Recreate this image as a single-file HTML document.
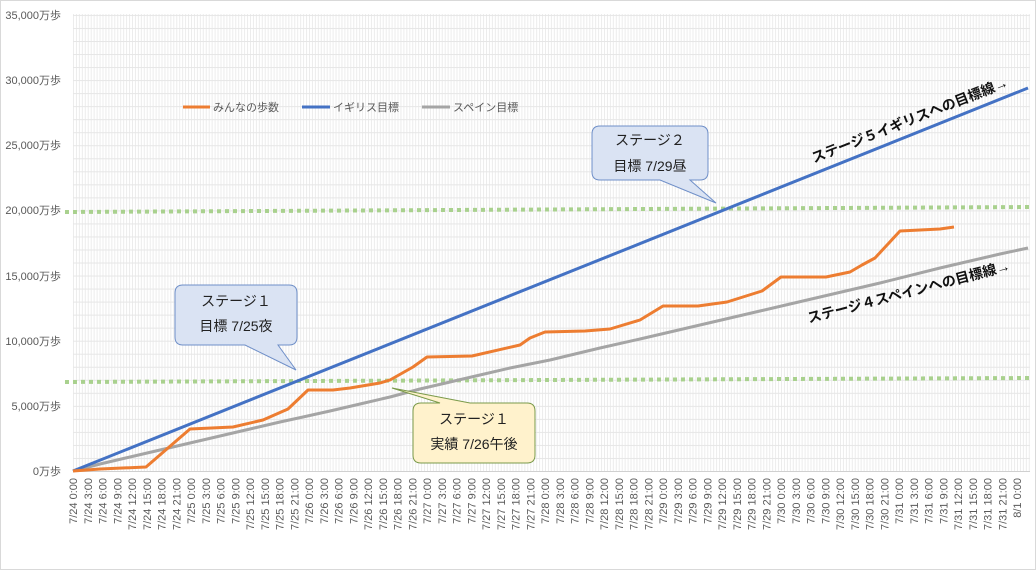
<!DOCTYPE html>
<html><head><meta charset="utf-8"><style>
body{margin:0;background:#fff}
svg{display:block;font-family:"Liberation Sans","Noto Sans CJK JP",sans-serif}
.xl{font-size:11px;fill:#595959}
.yl{font-size:11px;fill:#595959}
</style></head><body>
<svg width="1036" height="570" viewBox="0 0 1036 570" xmlns="http://www.w3.org/2000/svg">
<defs>
<pattern id="vg" x="73" y="0" width="2.95" height="10" patternUnits="userSpaceOnUse">
<line x1="0.5" y1="0" x2="0.5" y2="10" stroke="#ececec" stroke-width="1"/>
</pattern>
<pattern id="hg" x="0" y="471" width="10" height="13.03" patternUnits="userSpaceOnUse">
<line x1="0" y1="0.5" x2="10" y2="0.5" stroke="#e6e6e6" stroke-width="1"/>
</pattern>
</defs>
<rect x="0.5" y="0.5" width="1035" height="569" fill="#fff" stroke="#d9d9d9"/>
<rect x="73" y="14" width="957" height="457" fill="url(#vg)"/>
<rect x="73" y="14" width="957" height="457" fill="url(#hg)"/>
<line x1="73" y1="471.5" x2="1030" y2="471.5" stroke="#d0d0d0"/>
<g class="yl" text-anchor="end">
<text x="61" y="475">0万歩</text>
<text x="61" y="410">5,000万歩</text>
<text x="61" y="345">10,000万歩</text>
<text x="61" y="280">15,000万歩</text>
<text x="61" y="214">20,000万歩</text>
<text x="61" y="149">25,000万歩</text>
<text x="61" y="84">30,000万歩</text>
<text x="61" y="19">35,000万歩</text>
</g>
<line x1="65" y1="212" x2="1030" y2="207" stroke="#a9d18e" stroke-width="4" stroke-dasharray="4 4"/>
<line x1="65" y1="382" x2="1030" y2="378" stroke="#a9d18e" stroke-width="4" stroke-dasharray="4 4"/>
<polyline fill="none" stroke="#a5a5a5" stroke-width="3" stroke-linejoin="round" points="73,471 100,464 130,457 160,450 190,443 220,436 250,429 280,422 303,417 330,411 360,404 390,397 420,389 450,382 480,375 510,368 550,360 600,348 640,339 700,325 760,311 820,297 880,283 940,268 1000,254 1028,248"/>
<polyline fill="none" stroke="#4472c4" stroke-width="3" points="73,471 1028,88"/>
<polyline fill="none" stroke="#ed7d31" stroke-width="3" stroke-linejoin="round" points="73,471 100,469 146,467 168,448 190,429 233,427 263,420 288,409 308,390 333,390 350,388 380,383 390,380 413,367 427,357 472,356 520,345 530,338 545,332 585,331 610,329 640,320 663,306 698,306 727,302 762,291 781,277 826,277 850,272 862,265 875,258 900,231 940,229 954,227"/>
<line x1="183" y1="107" x2="210" y2="107" stroke="#ed7d31" stroke-width="3"/>
<text x="213" y="111" font-size="11" fill="#595959">みんなの歩数</text>
<line x1="302" y1="107" x2="330" y2="107" stroke="#4472c4" stroke-width="3"/>
<text x="333" y="111" font-size="11" fill="#595959">イギリス目標</text>
<line x1="422" y1="107" x2="450" y2="107" stroke="#a5a5a5" stroke-width="3"/>
<text x="453" y="111" font-size="11" fill="#595959">スペイン目標</text>
<path d="M183,285 H289 Q297,285 297,293 V337 Q297,345 289,345 H278 L296,370 L245,345 H183 Q175,345 175,337 V293 Q175,285 183,285 Z" fill="#dae3f3" stroke="#6f8fc8"/>
<text x="236" y="306" font-size="14" text-anchor="middle" fill="#222">ステージ１</text>
<text x="236" y="331" font-size="14" text-anchor="middle" fill="#222">目標 7/25夜</text>
<path d="M600,126 H700 Q708,126 708,134 V172 Q708,180 700,180 H690 L716,203 L660,180 H600 Q592,180 592,172 V134 Q592,126 600,126 Z" fill="#dae3f3" stroke="#6f8fc8"/>
<text x="650" y="145" font-size="14" text-anchor="middle" fill="#222">ステージ２</text>
<text x="650" y="171" font-size="14" text-anchor="middle" fill="#222">目標 7/29昼</text>
<path d="M421,403 H440 L392,388 L470,403 H527 Q535,403 535,411 V455 Q535,463 527,463 H421 Q413,463 413,455 V411 Q413,403 421,403 Z" fill="#fff2cc" stroke="#7a9a4a"/>
<text x="474" y="424" font-size="14" text-anchor="middle" fill="#222">ステージ１</text>
<text x="474" y="449" font-size="14" text-anchor="middle" fill="#222">実績 7/26午後</text>
<text transform="translate(814,163) rotate(-21.5)" font-size="14" font-weight="bold" fill="#111">ステージ５イギリスへの目標線→</text>
<text transform="translate(809,323) rotate(-14.7)" font-size="14" font-weight="bold" fill="#111">ステージ４スペインへの目標線→</text>
<g class="xl" text-anchor="end">
<text transform="translate(77,478) rotate(-90)">7/24 0:00</text>
<text transform="translate(91.75,478) rotate(-90)">7/24 3:00</text>
<text transform="translate(106.5,478) rotate(-90)">7/24 6:00</text>
<text transform="translate(121.25,478) rotate(-90)">7/24 9:00</text>
<text transform="translate(136,478) rotate(-90)">7/24 12:00</text>
<text transform="translate(150.75,478) rotate(-90)">7/24 15:00</text>
<text transform="translate(165.5,478) rotate(-90)">7/24 18:00</text>
<text transform="translate(180.25,478) rotate(-90)">7/24 21:00</text>
<text transform="translate(195,478) rotate(-90)">7/25 0:00</text>
<text transform="translate(209.75,478) rotate(-90)">7/25 3:00</text>
<text transform="translate(224.5,478) rotate(-90)">7/25 6:00</text>
<text transform="translate(239.25,478) rotate(-90)">7/25 9:00</text>
<text transform="translate(254,478) rotate(-90)">7/25 12:00</text>
<text transform="translate(268.75,478) rotate(-90)">7/25 15:00</text>
<text transform="translate(283.5,478) rotate(-90)">7/25 18:00</text>
<text transform="translate(298.25,478) rotate(-90)">7/25 21:00</text>
<text transform="translate(313,478) rotate(-90)">7/26 0:00</text>
<text transform="translate(327.75,478) rotate(-90)">7/26 3:00</text>
<text transform="translate(342.5,478) rotate(-90)">7/26 6:00</text>
<text transform="translate(357.25,478) rotate(-90)">7/26 9:00</text>
<text transform="translate(372,478) rotate(-90)">7/26 12:00</text>
<text transform="translate(386.75,478) rotate(-90)">7/26 15:00</text>
<text transform="translate(401.5,478) rotate(-90)">7/26 18:00</text>
<text transform="translate(416.25,478) rotate(-90)">7/26 21:00</text>
<text transform="translate(431,478) rotate(-90)">7/27 0:00</text>
<text transform="translate(445.75,478) rotate(-90)">7/27 3:00</text>
<text transform="translate(460.5,478) rotate(-90)">7/27 6:00</text>
<text transform="translate(475.25,478) rotate(-90)">7/27 9:00</text>
<text transform="translate(490,478) rotate(-90)">7/27 12:00</text>
<text transform="translate(504.75,478) rotate(-90)">7/27 15:00</text>
<text transform="translate(519.5,478) rotate(-90)">7/27 18:00</text>
<text transform="translate(534.25,478) rotate(-90)">7/27 21:00</text>
<text transform="translate(549,478) rotate(-90)">7/28 0:00</text>
<text transform="translate(563.75,478) rotate(-90)">7/28 3:00</text>
<text transform="translate(578.5,478) rotate(-90)">7/28 6:00</text>
<text transform="translate(593.25,478) rotate(-90)">7/28 9:00</text>
<text transform="translate(608,478) rotate(-90)">7/28 12:00</text>
<text transform="translate(622.75,478) rotate(-90)">7/28 15:00</text>
<text transform="translate(637.5,478) rotate(-90)">7/28 18:00</text>
<text transform="translate(652.25,478) rotate(-90)">7/28 21:00</text>
<text transform="translate(667,478) rotate(-90)">7/29 0:00</text>
<text transform="translate(681.75,478) rotate(-90)">7/29 3:00</text>
<text transform="translate(696.5,478) rotate(-90)">7/29 6:00</text>
<text transform="translate(711.25,478) rotate(-90)">7/29 9:00</text>
<text transform="translate(726,478) rotate(-90)">7/29 12:00</text>
<text transform="translate(740.75,478) rotate(-90)">7/29 15:00</text>
<text transform="translate(755.5,478) rotate(-90)">7/29 18:00</text>
<text transform="translate(770.25,478) rotate(-90)">7/29 21:00</text>
<text transform="translate(785,478) rotate(-90)">7/30 0:00</text>
<text transform="translate(799.75,478) rotate(-90)">7/30 3:00</text>
<text transform="translate(814.5,478) rotate(-90)">7/30 6:00</text>
<text transform="translate(829.25,478) rotate(-90)">7/30 9:00</text>
<text transform="translate(844,478) rotate(-90)">7/30 12:00</text>
<text transform="translate(858.75,478) rotate(-90)">7/30 15:00</text>
<text transform="translate(873.5,478) rotate(-90)">7/30 18:00</text>
<text transform="translate(888.25,478) rotate(-90)">7/30 21:00</text>
<text transform="translate(903,478) rotate(-90)">7/31 0:00</text>
<text transform="translate(917.75,478) rotate(-90)">7/31 3:00</text>
<text transform="translate(932.5,478) rotate(-90)">7/31 6:00</text>
<text transform="translate(947.25,478) rotate(-90)">7/31 9:00</text>
<text transform="translate(962,478) rotate(-90)">7/31 12:00</text>
<text transform="translate(976.75,478) rotate(-90)">7/31 15:00</text>
<text transform="translate(991.5,478) rotate(-90)">7/31 18:00</text>
<text transform="translate(1006.25,478) rotate(-90)">7/31 21:00</text>
<text transform="translate(1021,478) rotate(-90)">8/1 0:00</text>
</g>
</svg>
</body></html>
